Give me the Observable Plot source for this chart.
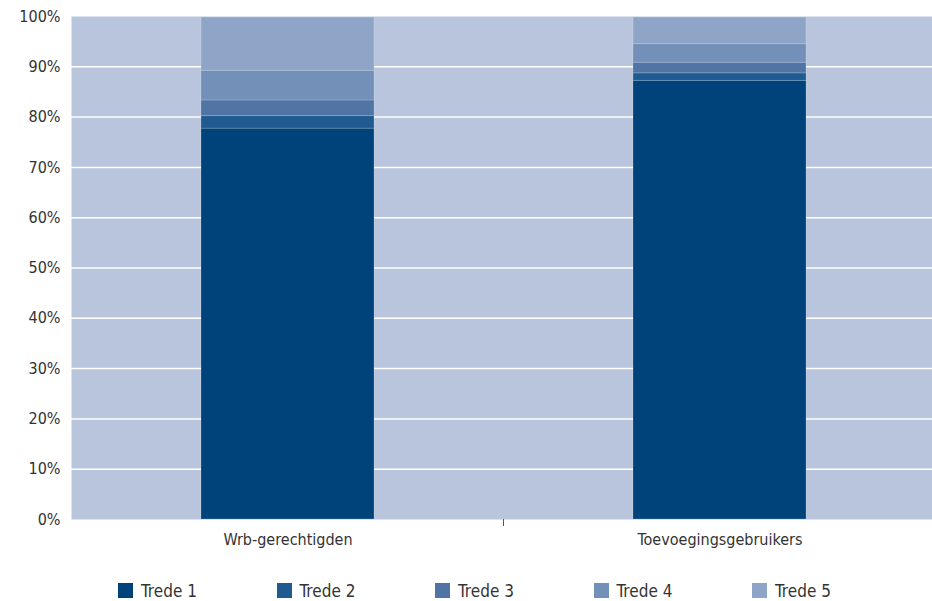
<!DOCTYPE html>
<html>
<head>
<meta charset="utf-8">
<script src="https://cdn.jsdelivr.net/npm/d3@7"></script>
<script src="https://cdn.jsdelivr.net/npm/@observablehq/plot@0.6"></script>
<style>
  html, body { margin: 0; padding: 0; background: #fff; }
  body { width: 932px; height: 601px; overflow: hidden; font-family: "DejaVu Sans Condensed", "Liberation Sans", sans-serif; color: #333; }
  #chart { width: 932px; overflow: hidden; height: 560px; }
  #chart svg { max-width: none !important; }
  #legend { display: flex; height: 41px; margin-top: 10px; align-items: center; padding-left: 118px; font-size: 17px; }
  .item { display: flex; align-items: center; width: 158.5px; }
  .sw { width: 15px; height: 15px; margin-right: 8px; }
</style>
</head>
<body>
<div id="chart"></div>
<div id="legend"></div>
<script>
const categories = ["Wrb-gerechtigden", "Toevoegingsgebruikers"];
const series = ["Trede 1", "Trede 2", "Trede 3", "Trede 4", "Trede 5"];
const valuesWrb = [77.7, 2.5, 3.1, 5.9, 10.6];
const valuesToev = [87.2, 1.5, 2.1, 3.7, 5.3];
const colors = ["#00427a", "#1f5b90", "#5074a4", "#7390b9", "#8fa5c8"];
const yTicks = [0, 10, 20, 30, 40, 50, 60, 70, 80, 90, 100];

const table = [];
[valuesWrb, valuesToev].forEach((vals, i) => {
  vals.forEach((v, j) => table.push({cat: categories[i], serie: series[j], value: v, order: j}));
});

function midTick(index, scales, values, dims) {
  const x = scales.x;
  const a = x(categories[0]) + x.bandwidth() / 2;
  const b = x(categories[1]) + x.bandwidth() / 2;
  const mx = (a + b) / 2;
  const y0 = dims.height - dims.marginBottom;
  const g = d3.create("svg:g");
  g.append("line").attr("x1", mx).attr("x2", mx).attr("y1", y0).attr("y2", y0 + 7)
    .attr("stroke", "#555").attr("stroke-width", 1);
  return g.node();
}

const chart = Plot.plot({
  width: 936,
  height: 560,
  marginTop: 16,
  marginBottom: 41,
  marginLeft: 71,
  marginRight: 1,
  style: {fontFamily: '"DejaVu Sans Condensed", "Liberation Sans", sans-serif', fontSize: "16px", color: "#333", background: "#fff", maxWidth: "none"},
  x: {domain: categories, paddingInner: 0.6, paddingOuter: 0.3, label: null, tickSize: 0, tickPadding: 14},
  y: {domain: [0, 100], ticks: yTicks, tickFormat: d => d + "%", label: null, tickSize: 0, tickPadding: 11},
  color: {domain: series, range: colors},
  marks: [
    Plot.frame({fill: "#b8c5dc", stroke: null}),
    Plot.gridY(yTicks.filter(d => d > 0 && d < 100), {stroke: "#ffffff", strokeOpacity: 1, strokeWidth: 1.5}),
    Plot.barY(table, Plot.stackY({x: "cat", y: "value", fill: "serie", order: "order", stroke: "#ffffff", strokeOpacity: 0.18, strokeWidth: 1})),
    midTick
  ]
});
document.getElementById("chart").appendChild(chart);

const legend = document.getElementById("legend");
series.forEach((s, i) => {
  const it = document.createElement("div");
  it.className = "item";
  it.innerHTML = `<span class="sw" style="background:${colors[i]}"></span><span>${s}</span>`;
  legend.appendChild(it);
});
</script>
</body>
</html>
